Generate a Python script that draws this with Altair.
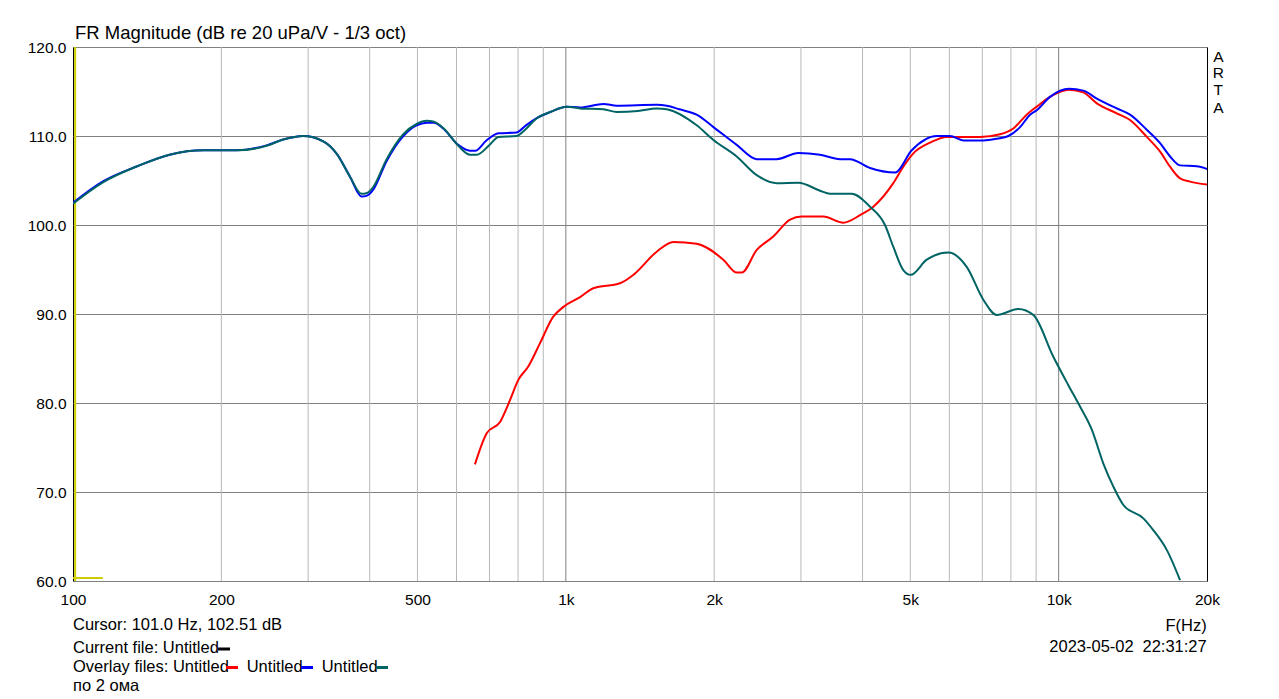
import altair as alt
import pandas as pd

# ---------------- data ----------------
red_freq = [654, 691, 736, 770, 801, 839, 886, 943, 989, 1069, 1137, 1288, 1371, 1529, 1653,
            1843, 2087, 2222, 2275, 2440, 2636, 2851, 3010, 3330, 3657, 3953, 4207, 4618, 4839,
            5072, 5483, 5928, 6926, 7604, 8093, 8613, 9027, 9605, 10500, 11223, 11952, 13119,
            13959, 15095, 16064, 16832, 17634, 18480, 20000]
red_db = [73.1, 76.6, 77.9, 80.3, 82.6, 84.1, 86.7, 89.7, 90.8, 91.9, 92.9, 93.45, 94.4, 97.0, 98.1,
          97.9, 96.1, 94.65, 94.65, 97.2, 98.7, 100.6, 100.95, 100.95, 100.26, 101.1, 102.05, 104.7, 106.55,
          108.05, 109.25, 109.9, 109.9, 110.2, 110.85, 112.4, 113.3, 114.4, 115.2, 114.9, 113.67, 112.55,
          111.8, 109.9, 108.24, 106.55, 105.24, 104.87, 104.55]

blue_freq = [100, 115, 135, 157, 184, 215, 247, 267, 293, 322, 343, 365, 385, 395, 407, 433, 468,
             498, 522, 540, 564, 605, 639, 655, 690, 730, 795, 830, 873, 930, 1004, 1069, 1192,
             1269, 1529, 1603, 1700, 1843, 1993, 2222, 2440, 2679, 2964, 3280, 3601, 3773, 4143,
             4656, 5034, 5657, 6020, 6406, 7034, 7500, 7907, 8350, 8750, 9027, 9605, 10500, 11223,
             11952, 13119, 13959, 15095, 16064, 16832, 17634, 19062, 20000]
blue_db = [102.5, 104.9, 106.6, 107.9, 108.4, 108.4, 108.95, 109.6, 110.0, 109.4, 108.0, 105.4, 103.2,
           103.3, 104.0, 107.2, 110.0, 111.2, 111.5, 111.5, 110.85, 109.0, 108.35, 108.35, 109.5, 110.3,
           110.4, 111.2, 112.0, 112.7, 113.3, 113.2, 113.6, 113.4, 113.5, 113.4, 113.0, 112.4, 111.0,
           109.0, 107.4, 107.4, 108.1, 107.9, 107.4, 107.4, 106.4, 105.9, 108.4, 110.0, 110.0, 109.5,
           109.5, 109.7, 110.0, 111.0, 112.4, 112.9, 114.4, 115.3, 115.1, 114.2, 113.1, 112.4, 110.7,
           109.2, 107.7, 106.7, 106.6, 106.3]

teal_freq = [100, 115, 135, 157, 184, 215, 247, 267, 293, 322, 343, 365, 385, 395, 407, 433, 468,
             498, 522, 540, 564, 605, 639, 660, 700, 730, 795, 830, 873, 930, 1004, 1069, 1192,
             1269, 1400, 1529, 1603, 1843, 1993, 2222, 2440, 2679, 2964, 3280, 3436, 3803, 4143,
             4443, 4618, 4839, 5010, 5399, 5974, 6508, 7034, 7486, 8285, 8883, 9754, 10464, 11050,
             11675, 12323, 12914, 13533, 14855, 15570, 16571, 17634]
teal_db = [102.4, 104.8, 106.6, 107.9, 108.4, 108.4, 108.9, 109.6, 110.0, 109.4, 108.0, 105.4, 103.5,
           103.6, 104.3, 107.4, 110.2, 111.35, 111.7, 111.6, 110.9, 108.9, 107.9, 107.9, 109.0, 109.9,
           110.0, 110.8, 112.0, 112.7, 113.3, 113.1, 113.0, 112.7, 112.8, 113.1, 113.0, 111.2, 109.55,
           107.7, 105.6, 104.7, 104.75, 103.85, 103.5, 103.5, 102.05, 100.0, 97.56, 94.94, 94.4, 96.1,
           96.9, 95.3, 91.6, 89.9, 90.56, 89.9, 85.2, 82.0, 79.6, 77.0, 73.2, 70.6, 68.54, 67.04,
           65.7, 63.5, 60.1]

cursor_freq = [101.0]
cursor_bar_freq = [100, 115]
cursor_bar_db = [60.34]

x_ticks = [100, 200, 500, 1000, 2000, 5000, 10000, 20000]
y_ticks = [60, 70, 80, 90, 100, 110, 120]
minor_grid = [200, 300, 400, 500, 600, 700, 800, 900,
              2000, 3000, 4000, 5000, 6000, 7000, 8000, 9000]
major_grid = [1000, 10000]

title_text = "FR Magnitude (dB re 20 uPa/V - 1/3 oct)"
cursor_text = "Cursor: 101.0 Hz, 102.51 dB"
current_text = "Current file: Untitled"
overlay_text = "Overlay files: Untitled"
untitled_text = "Untitled"
note_text = "по 2 ома"
axis_text = "F(Hz)"
date_text = "2023-05-02"
time_text = "22:31:27"
brand_letters = ["A", "R", "T", "A"]

# ---------------- styling ----------------
FONT = "Liberation Sans"
W, H = 1134, 534

xscale = alt.Scale(type="log", domain=[100, 20000], nice=False)
yscale = alt.Scale(domain=[60, 120], nice=False, zero=False)

xaxis = alt.Axis(values=x_ticks,
                 labelExpr="datum.value >= 1000 ? (datum.value/1000) + 'k' : '' + datum.value",
                 grid=False, ticks=False, domain=False, labelFont=FONT, labelFontSize=15.5,
                 labelColor="black", labelPadding=11, title=None, labelFlush=False,
                 labelOverlap=False)
yaxis = alt.Axis(values=y_ticks, format=".1f", grid=True, gridColor="#808080", gridOpacity=1,
                 ticks=False, domain=False, labelFont=FONT, labelFontSize=15.5,
                 labelColor="black", labelPadding=7, title=None, labelOverlap=False)

X = lambda: alt.X("f:Q", scale=xscale, axis=xaxis)
Y = lambda: alt.Y("db:Q", scale=yscale, axis=yaxis)

layers = []

# gridlines along x
layers.append(alt.Chart(pd.DataFrame({"f": minor_grid})).mark_rule(
    color="#b8b8b8", strokeWidth=1).encode(x=X()))
layers.append(alt.Chart(pd.DataFrame({"f": major_grid})).mark_rule(
    color="#808080", strokeWidth=1).encode(x=X()))

# cursor
layers.append(alt.Chart(pd.DataFrame({"f": cursor_freq})).mark_rule(
    color="#cccc00", strokeWidth=2).encode(x=X()))
layers.append(alt.Chart(pd.DataFrame({"f": [cursor_bar_freq[0]], "f2": [cursor_bar_freq[1]],
                                      "db": cursor_bar_db})).mark_rule(
    color="#cccc00", strokeWidth=2).encode(x=X(), x2="f2:Q", y=Y()))

# curves
for freqs, dbs, col in [(red_freq, red_db, "#ff0000"),
                        (blue_freq, blue_db, "#0000ff"),
                        (teal_freq, teal_db, "#006464")]:
    df = pd.DataFrame({"f": freqs, "db": dbs})
    layers.append(alt.Chart(df).mark_line(color=col, strokeWidth=2, interpolate="monotone",
                                          clip=True).encode(x=X(), y=Y()))


def label(text, x, y, size=16.5, align="left", baseline="alphabetic"):
    return alt.Chart(pd.DataFrame({"t": [text]})).mark_text(
        align=align, baseline=baseline, font=FONT, fontSize=size, color="black").encode(
        x=alt.value(x), y=alt.value(y), text="t:N")


def dash(x1, x2, y, col):
    return alt.Chart(pd.DataFrame({"k": [0]})).mark_rule(color=col, strokeWidth=3).encode(
        x=alt.value(x1), x2=alt.value(x2), y=alt.value(y))


layers.append(label(title_text, 2, -7.7, size=18.5))
layers.append(label(cursor_text, 0, 583))
layers.append(label(current_text, 0, 606.3))
layers.append(label(overlay_text, 0, 625.3))
layers.append(label(untitled_text, 173.7, 625.3))
layers.append(label(untitled_text, 248.7, 625.3))
layers.append(label(note_text, 0, 643.5))
layers.append(label(axis_text, 1133.7, 584, align="right"))
layers.append(label(date_text, 976.3, 604.7, align="left"))
layers.append(label(time_text, 1133.7, 604.7, align="right"))
for i, ch in enumerate(brand_letters):
    layers.append(label(ch, 1145.3, [14.7, 31.3, 48, 65.7][i], size=15.5, align="center"))

layers.append(dash(145, 157, 602, "#000000"))
layers.append(dash(153, 165, 620.5, "#ff0000"))
layers.append(dash(228, 240, 620.5, "#0000ff"))
layers.append(dash(303, 315, 620.5, "#006464"))

chart = alt.layer(*layers).properties(
    width=W, height=H,
    autosize=alt.AutoSizeParams(type="none"),
    padding={"left": 65, "top": 39, "right": 64, "bottom": 116},
    background="white",
).configure_view(stroke="black", strokeWidth=1)

chart.save("out.html", embed_options={"renderer": "svg", "actions": False})
